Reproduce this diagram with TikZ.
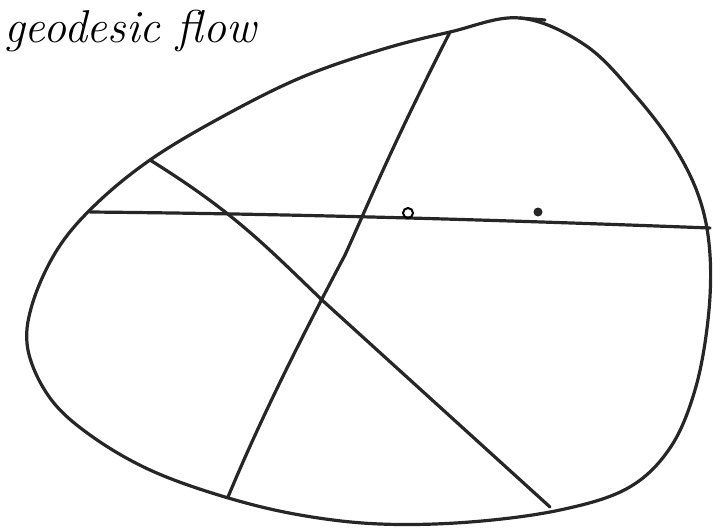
\documentclass[tikz,border=0pt]{standalone}
\begin{document}
\begin{tikzpicture}[x=1pt,y=-1pt,
  ink/.style={line width=3.2pt,line cap=round,line join=round,black!85},
  title/.style={font=\fontsize{46}{48}\selectfont\itshape,anchor=base west,inner sep=0pt}]
\useasboundingbox (0,0) rectangle (713,531);
\node[title] (t) at (4,42) {geodesic flow};
% outline
\draw[ink] plot[smooth cycle,tension=0.6] coordinates {
  (520,18) (585,45) (635,95) (675,148) (700,200) (710,255) (708,320)
  (695,390) (670,448) (628,488) (560,510) (470,522) (380,524) (300,515)
  (225,497) (150,470) (90,435) (50,398) (28,350) (32,305) (57,250)
  (95,205) (150,160) (220,118) (300,78) (380,50) (450,32)};
\draw[ink] (520,18) -- (545,20);
% chords
\coordinate (h1) at (90,212);
\coordinate (h2) at (710,228);
\draw[ink] (h1) .. controls (300,214) and (500,220) .. (h2);
\coordinate (a1) at (450,32);
\coordinate (a2) at (228,497);
\draw[ink] (a1) .. controls (390,150) and (370,200) .. (345,255)
  .. controls (300,340) and (260,420) .. (a2);
\coordinate (b1) at (150,160);
\coordinate (b2) at (550,507);
\draw[ink] (b1) .. controls (230,210) and (260,240) .. (322,300)
  -- (b2);
% small marks
\node[draw,circle,line width=2pt,minimum size=10pt,inner sep=0pt] (m1) at (408,213) {};
\node[fill,circle,black!85,minimum size=9pt,inner sep=0pt] (m2) at (538,212) {};
\end{tikzpicture}
\end{document}
